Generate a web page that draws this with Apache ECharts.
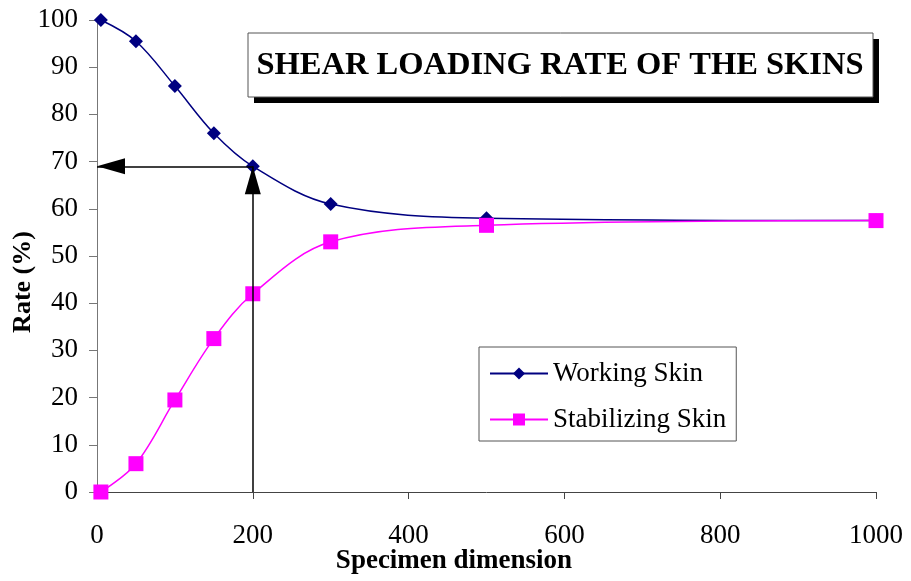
<!DOCTYPE html>
<html>
<head>
<meta charset="utf-8">
<script src="https://cdn.jsdelivr.net/npm/echarts@6/dist/echarts.min.js"></script>
<style>
  html, body { margin: 0; padding: 0; background: #fff; }
  #chart { width: 911px; height: 581px; }
</style>
</head>
<body>
<div id="chart"></div>
<script>
'use strict';

// data
var dims = [5, 50, 100, 150, 200, 300, 500, 1000];
var workingSkin = [100, 95.5, 86, 76, 69, 61, 58, 57.5];
var stabilizingSkin = [0, 6, 19.5, 32.5, 42, 53, 56.5, 57.5];
var xTicks = [0, 200, 400, 600, 800, 1000];
var arrowAt = [200, 69];

var serif = '"Liberation Serif", "DejaVu Serif", serif';

function pairs(xs, ys) {
  var out = [];
  for (var i = 0; i < xs.length; i++) {
    out.push([xs[i], ys[i]]);
  }
  return out;
}

var chart = echarts.init(document.getElementById('chart'));

var option = {
  backgroundColor: '#fff',
  animation: false,
  grid: { left: 97, right: 35, top: 20, bottom: 89 },
  legend: {
    data: ['Working Skin', 'Stabilizing Skin'],
    orient: 'vertical',
    left: 479,
    top: 347,
    itemWidth: 58,
    itemHeight: 15,
    itemGap: 19,
    padding: [13, 10, 8, 10],
    borderColor: '#555',
    borderWidth: 1,
    textStyle: { fontFamily: serif, fontSize: 27, color: '#000' }
  },
  xAxis: {
    type: 'value',
    min: 0,
    max: 1000,
    interval: 200,
    splitLine: { show: false },
    axisLine: { lineStyle: { color: '#444', width: 1 } },
    axisTick: { length: 7, lineStyle: { color: '#444' } },
    axisLabel: {
      margin: 30,
      fontFamily: serif,
      fontSize: 27,
      color: '#000',
      formatter: function (v) { return xTicks.indexOf(v) >= 0 ? String(v) : ''; }
    }
  },
  yAxis: {
    type: 'value',
    min: 0,
    max: 100,
    interval: 10,
    splitLine: { show: false },
    axisLine: { show: true, lineStyle: { color: '#777', width: 1 } },
    axisTick: { show: true, length: 8, lineStyle: { color: '#777' } },
    axisLabel: { margin: 19, fontFamily: serif, fontSize: 27, color: '#000' }
  },
  graphic: [
    {
      type: 'rect',
      shape: { x: 254, y: 39, width: 625, height: 64 },
      style: { fill: '#000' },
      z: 10
    },
    {
      type: 'rect',
      shape: { x: 248, y: 33, width: 625, height: 64 },
      style: { fill: '#fff', stroke: '#555', lineWidth: 1 },
      z: 11
    },
    {
      type: 'text',
      x: 560,
      y: 66,
      style: {
        text: 'SHEAR LOADING RATE OF THE SKINS',
        font: 'bold 32.5px ' + serif,
        fill: '#000',
        align: 'center',
        verticalAlign: 'middle'
      },
      z: 12
    },
    {
      type: 'text',
      x: 454,
      y: 561,
      style: {
        text: 'Specimen dimension',
        font: 'bold 27px ' + serif,
        fill: '#000',
        align: 'center',
        verticalAlign: 'middle'
      },
      z: 12
    },
    {
      type: 'text',
      x: 23,
      y: 282,
      rotation: Math.PI / 2,
      style: {
        text: 'Rate (%)',
        font: 'bold 26px ' + serif,
        fill: '#000',
        align: 'center',
        verticalAlign: 'middle'
      },
      z: 12
    }
  ],
  series: [
    {
      name: 'arrows',
      type: 'line',
      data: [],
      silent: true,
      markLine: {
        silent: true,
        animation: false,
        label: { show: false },
        symbolOffset: [[0, 0], [0, 14]],
        lineStyle: { color: '#000', width: 1.5, type: 'solid' },
        data: [
          [
            { coord: [arrowAt[0], 0], symbol: 'none' },
            { coord: arrowAt, symbol: 'triangle', symbolSize: [16, 28] }
          ],
          [
            { coord: arrowAt, symbol: 'none' },
            { coord: [0, arrowAt[1]], symbol: 'triangle', symbolSize: [16, 28] }
          ]
        ]
      },
      z: 1
    },
    {
      name: 'Working Skin',
      type: 'line',
      smooth: 0.35,
      data: pairs(dims, workingSkin),
      symbol: 'diamond',
      symbolSize: 14,
      lineStyle: { color: '#000080', width: 1.5 },
      itemStyle: { color: '#000080' },
      z: 3
    },
    {
      name: 'Stabilizing Skin',
      type: 'line',
      smooth: 0.35,
      data: pairs(dims, stabilizingSkin),
      symbol: 'rect',
      symbolSize: 15,
      lineStyle: { color: '#ff00ff', width: 1.5 },
      itemStyle: { color: '#ff00ff' },
      z: 4
    }
  ]
};

chart.setOption(option);
</script>
</body>
</html>
